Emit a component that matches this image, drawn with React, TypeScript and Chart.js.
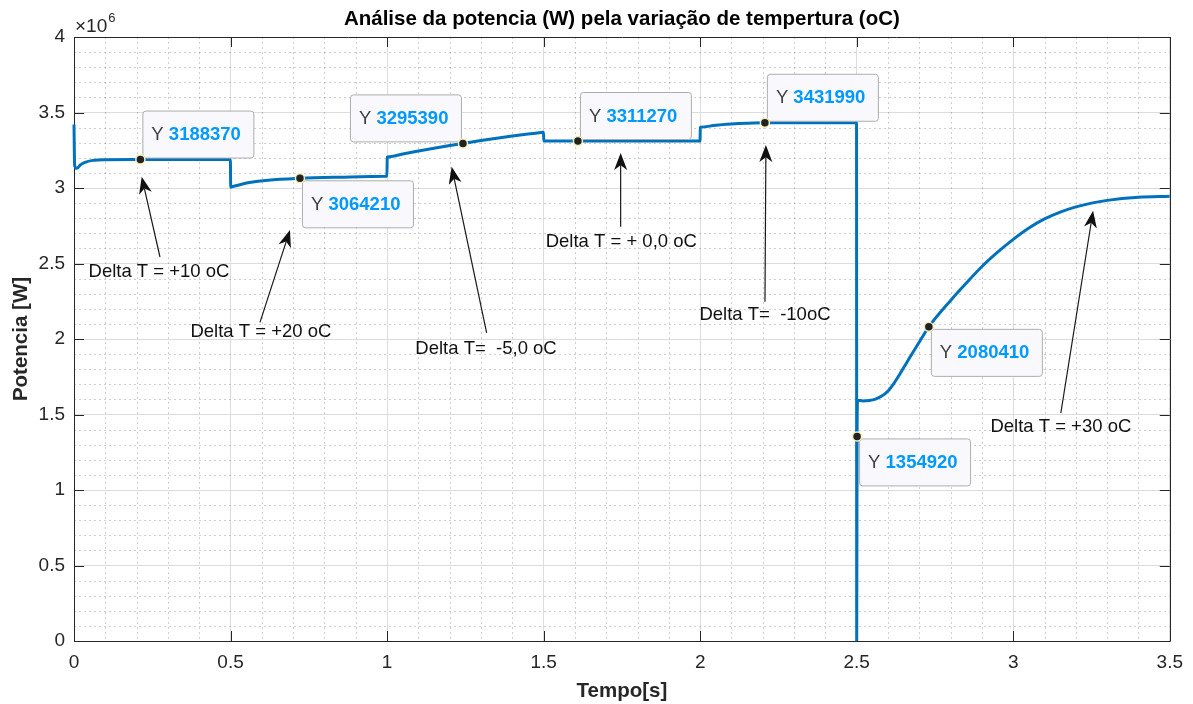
import React, { useEffect, useRef } from "react";
import { Chart, registerables } from "chart.js";

Chart.register(...registerables);

// ---- data (time in s, power in W) ----
const TIME = [
  0, 0.002, 0.009, 0.02, 0.035, 0.06, 0.1, 0.212, 0.4995,
  0.5005, 0.501, 0.53, 0.56, 0.62, 0.7217, 0.85, 0.9985, 0.9995,
  1.0005, 1.001, 1.05, 1.1, 1.15, 1.2, 1.2423, 1.3, 1.35, 1.4, 1.45, 1.4985, 1.4995,
  1.5005, 1.6095, 1.9995,
  2.0005, 2.001, 2.05, 2.1, 2.15, 2.2067, 2.4995,
  2.5, 2.5012, 2.503, 2.52, 2.54, 2.56, 2.58, 2.6, 2.62, 2.64, 2.66, 2.7, 2.7304,
  2.8, 2.85, 2.9, 2.95, 3.0, 3.05, 3.1, 3.15, 3.2, 3.25, 3.3, 3.4, 3.5,
];
const POWER = [
  3420000, 3150000, 3130000, 3152000, 3170000, 3183000, 3187500, 3188370, 3188370,
  3005000, 3005500, 3022000, 3036000, 3052000, 3064210, 3072000, 3077900, 3078000,
  3205000, 3205400, 3225300, 3244700, 3263300, 3281000, 3295390, 3314000, 3329300, 3343700, 3357300, 3369600, 3370000,
  3311270, 3311270, 3311270,
  3402000, 3402300, 3416000, 3424000, 3429000, 3431990, 3431990,
  0, 1354920, 1595000, 1590000, 1593000, 1602000, 1622000, 1656000, 1710000, 1775000, 1845000, 1980000, 2080410,
  2255000, 2370000, 2480000, 2575000, 2660000, 2735000, 2795000, 2840000, 2875000, 2900000, 2918000, 2938000, 2945000,
];

// data tips (x, y of the marked points)
const TIP_T = [0.212, 0.7217, 1.2423, 1.6095, 2.2067, 2.5012, 2.7304];
const TIP_Y = [3188370, 3064210, 3295390, 3311270, 3431990, 1354920, 2080410];

// text annotations
const NOTE_TEXT = [
  "Delta T = +10 oC",
  "Delta T = +20 oC",
  "Delta T=  -5,0 oC",
  "Delta T = + 0,0 oC",
  "Delta T=  -10oC",
  "Delta T = +30 oC",
];

const X_TICKS_STEP = 0.5;
const Y_TICKS_STEP = 500000;

// annotation layout (anchors in data units, placement separate from the data arrays)
const TIP_DIR = ["ne", "se", "nw", "ne", "ne", "se", "se"];
const NOTE_LAYOUT = {
  textT: [0.2714, 0.597, 1.316, 1.748, 2.207, 3.152],
  textY: [2446000, 2045000, 1934000, 2642000, 2159000, 1419000],
  headT: [0.2162, 0.6898, 1.2062, 1.746, 2.21, 3.255],
  headY: [3075000, 2722000, 3141000, 3232000, 3285000, 2850000],
  tailT: [0.2746, 0.594, 1.318, 1.746, 2.207, 3.152],
  tailY: [2543000, 2110000, 2040000, 2744000, 2247000, 1510000],
};

const FONT = '"Liberation Sans", Arial, Helvetica, sans-serif';
const AX = "#262626";

function roundRect(ctx: CanvasRenderingContext2D, x: number, y: number, w: number, h: number, r: number) {
  ctx.beginPath();
  ctx.moveTo(x + r, y);
  ctx.lineTo(x + w - r, y);
  ctx.quadraticCurveTo(x + w, y, x + w, y + r);
  ctx.lineTo(x + w, y + h - r);
  ctx.quadraticCurveTo(x + w, y + h, x + w - r, y + h);
  ctx.lineTo(x + r, y + h);
  ctx.quadraticCurveTo(x, y + h, x, y + h - r);
  ctx.lineTo(x, y + r);
  ctx.quadraticCurveTo(x, y, x + r, y);
  ctx.closePath();
}

function drawArrow(ctx: CanvasRenderingContext2D, x1: number, y1: number, x2: number, y2: number) {
  const ang = Math.atan2(y2 - y1, x2 - x1);
  const c = Math.cos(ang), s = Math.sin(ang);
  const L = 17, W = 6.5, N = 0.72;
  ctx.save();
  ctx.strokeStyle = "#1a1a1a";
  ctx.fillStyle = "#111";
  ctx.lineWidth = 1.2;
  ctx.beginPath();
  ctx.moveTo(x1, y1);
  ctx.lineTo(x2 - N * L * c, y2 - N * L * s);
  ctx.stroke();
  ctx.beginPath();
  ctx.moveTo(x2, y2);
  ctx.lineTo(x2 - L * c + W * s, y2 - L * s - W * c);
  ctx.lineTo(x2 - N * L * c, y2 - N * L * s);
  ctx.lineTo(x2 - L * c - W * s, y2 - L * s + W * c);
  ctx.closePath();
  ctx.fill();
  ctx.restore();
}

function drawTip(ctx: CanvasRenderingContext2D, mx: number, my: number, val: number, dir: string) {
  const w = 111, h = 47, g = 2;
  let left = mx + g;
  let top = my - g - h;
  if (dir === "se") top = my + g;
  if (dir === "nw") left = mx - g - w;
  ctx.save();
  roundRect(ctx, left + 0.5, top + 0.5, w, h, 3);
  ctx.fillStyle = "#f9f9fd";
  ctx.fill();
  ctx.strokeStyle = "#adadad";
  ctx.lineWidth = 1;
  ctx.stroke();
  ctx.textBaseline = "middle";
  ctx.textAlign = "left";
  ctx.font = `18.5px ${FONT}`;
  ctx.fillStyle = "#404040";
  ctx.fillText("Y", left + 9, top + h / 2 + 1);
  const yw = ctx.measureText("Y ").width;
  ctx.font = `bold 18.5px ${FONT}`;
  ctx.fillStyle = "#0099ff";
  ctx.fillText(String(val), left + 9 + yw, top + h / 2 + 1);
  // marker
  ctx.beginPath();
  ctx.arc(mx, my, 4.5, 0, Math.PI * 2);
  ctx.fillStyle = "#222";
  ctx.fill();
  ctx.strokeStyle = "#f2eeb8";
  ctx.lineWidth = 1.5;
  ctx.stroke();
  ctx.restore();
}

const decorPlugin = {
  id: "decor",
  beforeDatasetsDraw(chart: any) {
    const { ctx, chartArea: a, scales } = chart;
    const x = scales.x, y = scales.y;
    ctx.save();
    ctx.strokeStyle = "rgba(38,38,38,0.22)";
    ctx.lineWidth = 1;
    ctx.setLineDash([2, 3]);
    for (let i = 1; i < 35; i++) {
      if (i % 5 === 0) continue;
      const px = Math.round(x.getPixelForValue(i / 10)) + 0.5;
      ctx.beginPath();
      ctx.moveTo(px, a.top);
      ctx.lineTo(px, a.bottom);
      ctx.stroke();
    }
    for (let i = 1; i < 40; i++) {
      if (i % 5 === 0) continue;
      const py = Math.round(y.getPixelForValue(i * 100000)) + 0.5;
      ctx.beginPath();
      ctx.moveTo(a.left, py);
      ctx.lineTo(a.right, py);
      ctx.stroke();
    }
    ctx.setLineDash([]);
    // box
    ctx.strokeStyle = AX;
    ctx.lineWidth = 1;
    ctx.beginPath();
    ctx.rect(Math.round(a.left) + 0.5, Math.round(a.top) + 0.5, Math.round(a.right - a.left), Math.round(a.bottom - a.top));
    ctx.stroke();
    // inward ticks on all sides
    const TL = 10;
    for (let v = 0; v <= 3.5 + 1e-9; v += X_TICKS_STEP) {
      const px = Math.round(x.getPixelForValue(v)) + 0.5;
      ctx.beginPath();
      ctx.moveTo(px, a.bottom);
      ctx.lineTo(px, a.bottom - TL);
      ctx.moveTo(px, a.top);
      ctx.lineTo(px, a.top + TL);
      ctx.stroke();
    }
    for (let v = 0; v <= 4000000 + 1; v += Y_TICKS_STEP) {
      const py = Math.round(y.getPixelForValue(v)) + 0.5;
      ctx.beginPath();
      ctx.moveTo(a.left, py);
      ctx.lineTo(a.left + TL, py);
      ctx.moveTo(a.right, py);
      ctx.lineTo(a.right - TL, py);
      ctx.stroke();
    }
    ctx.restore();
  },
  afterDraw(chart: any) {
    const { ctx, chartArea: a, scales } = chart;
    const x = scales.x, y = scales.y;
    ctx.save();
    // title
    const cx = (a.left + a.right) / 2;
    ctx.fillStyle = "#000";
    ctx.textAlign = "center";
    ctx.textBaseline = "middle";
    ctx.font = `bold 20.5px ${FONT}`;
    ctx.fillText("Análise da potencia (W) pela variação de tempertura (oC)", cx, 19);
    // axis titles
    ctx.fillStyle = AX;
    ctx.fillText("Tempo[s]", cx, 691);
    ctx.save();
    ctx.translate(21, (a.top + a.bottom) / 2);
    ctx.rotate(-Math.PI / 2);
    ctx.fillText("Potencia [W]", 0, 0);
    ctx.restore();
    // exponent
    ctx.textAlign = "left";
    ctx.textBaseline = "alphabetic";
    ctx.fillStyle = AX;
    ctx.font = `19px ${FONT}`;
    ctx.fillText("×10", a.left + 1, 32);
    const ew = ctx.measureText("×10").width;
    ctx.font = `13px ${FONT}`;
    ctx.fillText("6", a.left + 1 + ew + 1, 22);
    ctx.restore();

    // arrows and notes
    ctx.save();
    for (let i = 0; i < NOTE_TEXT.length; i++) {
      drawArrow(
        ctx,
        x.getPixelForValue(NOTE_LAYOUT.tailT[i]),
        y.getPixelForValue(NOTE_LAYOUT.tailY[i]),
        x.getPixelForValue(NOTE_LAYOUT.headT[i]),
        y.getPixelForValue(NOTE_LAYOUT.headY[i])
      );
      ctx.font = `18.5px ${FONT}`;
      ctx.fillStyle = "#111";
      ctx.textAlign = "center";
      ctx.textBaseline = "middle";
      ctx.fillText(NOTE_TEXT[i], x.getPixelForValue(NOTE_LAYOUT.textT[i]), y.getPixelForValue(NOTE_LAYOUT.textY[i]));
    }
    ctx.restore();

    // data tips
    for (let i = 0; i < TIP_T.length; i++) {
      drawTip(ctx, x.getPixelForValue(TIP_T[i]), y.getPixelForValue(TIP_Y[i]), TIP_Y[i], TIP_DIR[i]);
    }
  },
};

export default function App() {
  const ref = useRef<HTMLCanvasElement | null>(null);
  useEffect(() => {
    if (!ref.current) return;
    const points = TIME.map((t, i) => ({ x: t, y: POWER[i] }));
    const chart = new Chart(ref.current, {
      type: "line",
      data: {
        datasets: [
          {
            data: points,
            borderColor: "#0072BD",
            borderWidth: 3,
            pointRadius: 0,
            cubicInterpolationMode: "monotone",
            fill: false,
            clip: { left: 2, top: 0, right: 0, bottom: 0 },
          },
        ],
      },
      options: {
        animation: false,
        responsive: false,
        devicePixelRatio: 1,
        events: [],
        layout: { padding: { left: 0, top: 37, right: 23, bottom: 0 } },
        plugins: { legend: { display: false }, tooltip: { enabled: false }, title: { display: false } },
        scales: {
          x: {
            type: "linear",
            min: 0,
            max: 3.5,
            ticks: {
              stepSize: X_TICKS_STEP,
              color: AX,
              font: { family: FONT, size: 19 },
              padding: 10,
              maxRotation: 0,
              autoSkip: false,
              callback: (v: any) => String(Number(v)),
            },
            grid: { color: "#dcdcdc", lineWidth: 1, drawTicks: false },
            border: { display: true, color: AX, width: 1 },
            afterFit: (s: any) => {
              s.height = 63;
            },
          },
          y: {
            type: "linear",
            min: 0,
            max: 4000000,
            ticks: {
              stepSize: Y_TICKS_STEP,
              color: AX,
              font: { family: FONT, size: 19 },
              padding: 9,
              callback: (v: any) => String(Number(v) / 1000000),
            },
            grid: { color: "#dcdcdc", lineWidth: 1, drawTicks: false },
            border: { display: true, color: AX, width: 1 },
            afterFit: (s: any) => {
              s.width = 74;
            },
          },
        },
      },
      plugins: [decorPlugin],
    } as any);
    return () => chart.destroy();
  }, []);
  return (
    <div style={{ position: "fixed", left: 0, top: 0, width: 1193, height: 704, background: "#fff" }}>
      <canvas ref={ref} width={1193} height={704} style={{ display: "block", width: 1193, height: 704 }} />
    </div>
  );
}
